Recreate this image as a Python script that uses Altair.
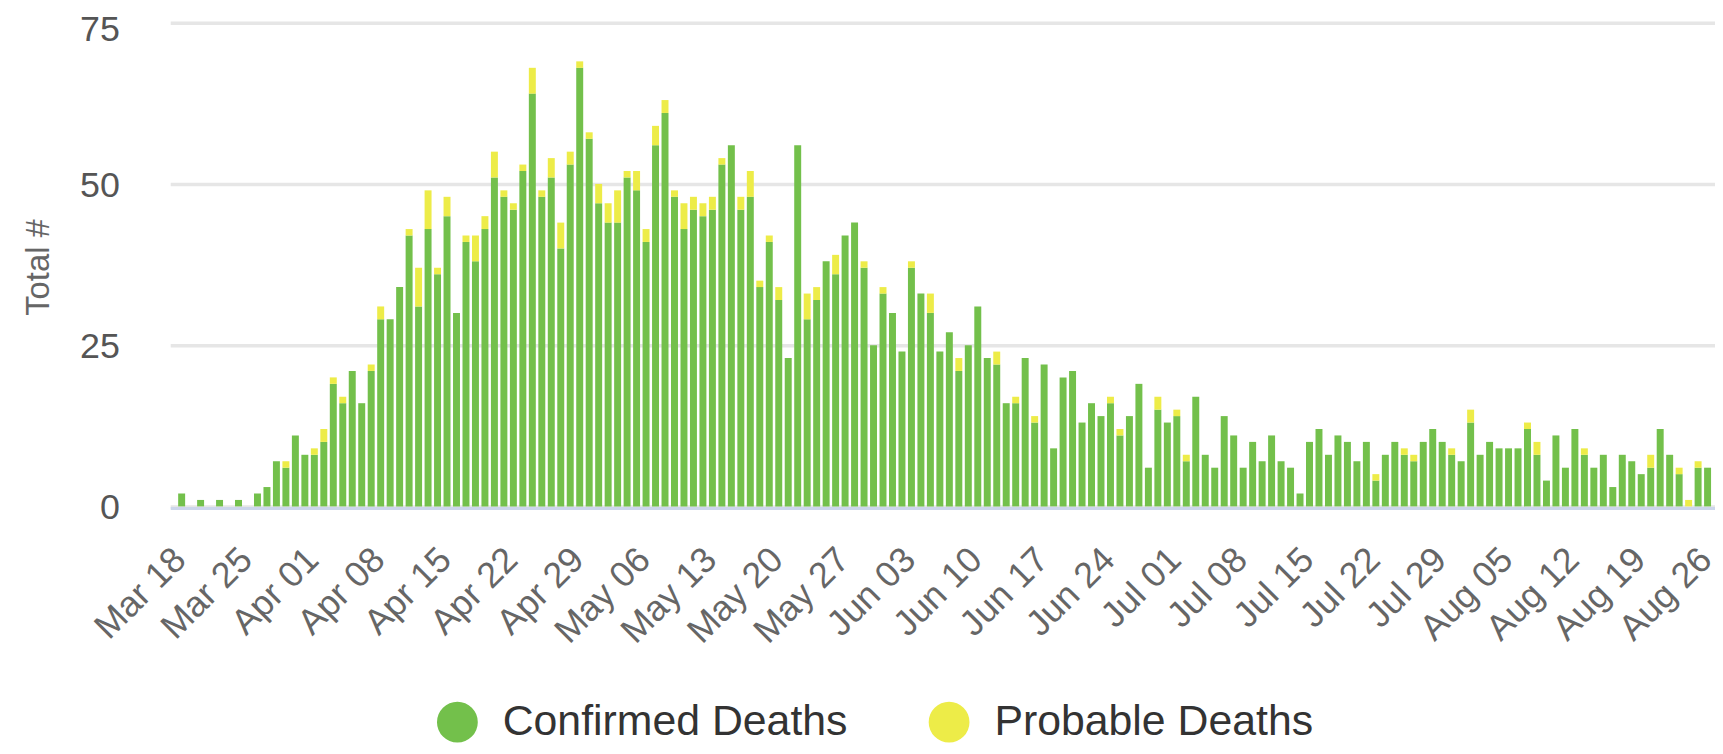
import altair as alt
import pandas as pd

start_date = "2020-03-18"
series_names = ["Confirmed Deaths", "Probable Deaths"]
series_colors = ["#73C04B", "#EDEC48"]

confirmed = [
    2, 0, 1, 0, 1, 0, 1, 0,
    2, 3, 7, 6, 11, 8, 8, 10, 19, 16,
    21, 16, 21, 29, 29, 34, 42, 31, 43, 36,
    45, 30, 41, 38, 43, 51, 48, 46, 52, 64,
    48, 51, 40, 53, 68, 57, 47, 44, 44, 51,
    49, 41, 56, 61, 48, 43, 46, 45, 46, 53,
    56, 46, 48, 34, 41, 32, 23, 56, 29, 32,
    38, 36, 42, 44, 37, 25, 33, 30, 24, 37,
    33, 30, 24, 27, 21, 25, 31, 23, 22, 16,
    16, 23, 13, 22, 9, 20, 21, 13, 16, 14,
    16, 11, 14, 19, 6, 15, 13, 14, 7, 17,
    8, 6, 14, 11, 6, 10, 7, 11, 7, 6,
    2, 10, 12, 8, 11, 10, 7, 10, 4, 8,
    10, 8, 7, 10, 12, 10, 8, 7, 13, 8,
    10, 9, 9, 9, 12, 8, 4, 11, 6, 12,
    8, 6, 8, 3, 8, 7, 5, 6, 12, 8,
    5, 0, 6, 6,
]

probable = [
    0, 0, 0, 0, 0, 0, 0, 0,
    0, 0, 0, 1, 0, 0, 1, 2, 1, 1,
    0, 0, 1, 2, 0, 0, 1, 6, 6, 1,
    3, 0, 1, 4, 2, 4, 1, 1, 1, 4,
    1, 3, 4, 2, 1, 1, 3, 3, 5, 1,
    3, 2, 3, 2, 1, 4, 2, 2, 2, 1,
    0, 2, 4, 1, 1, 2, 0, 0, 4, 2,
    0, 3, 0, 0, 1, 0, 1, 0, 0, 1,
    0, 3, 0, 0, 2, 0, 0, 0, 2, 0,
    1, 0, 1, 0, 0, 0, 0, 0, 0, 0,
    1, 1, 0, 0, 0, 2, 0, 1, 1, 0,
    0, 0, 0, 0, 0, 0, 0, 0, 0, 0,
    0, 0, 0, 0, 0, 0, 0, 0, 1, 0,
    0, 1, 1, 0, 0, 0, 1, 0, 2, 0,
    0, 0, 0, 0, 1, 2, 0, 0, 0, 0,
    1, 0, 0, 0, 0, 0, 0, 2, 0, 0,
    1, 1, 1, 0,
]

y_ticks = [0, 25, 50, 75]

dates = pd.date_range(start_date, periods=len(confirmed), freq="D")
rows = []
for d, c, p in zip(dates, confirmed, probable):
    ds = d.strftime("%Y-%m-%d")
    rows.append({"date": ds, "series": series_names[0], "value": c, "k": 0})
    rows.append({"date": ds, "series": series_names[1], "value": p, "k": 1})
df = pd.DataFrame(rows)

DAY = 86400000
t0 = int(pd.Timestamp(start_date, tz="UTC").value // 10**6)
x_domain = [t0 - 0.678 * DAY, t0 + 161.258 * DAY]
tick_values = [t0 + 7 * i * DAY for i in range(24)]

FONT = "Liberation Sans"

chart = alt.Chart(df).mark_bar(size=7).encode(
    x=alt.X(
        "date:T",
        scale=alt.Scale(type="utc", domain=x_domain),
        axis=alt.Axis(
            values=tick_values,
            labelExpr="utcFormat(datum.value, '%b %d')",
            labelAngle=315, labelAlign="right", labelBaseline="middle",
            labelFontSize=36, labelColor="#666666", labelFont=FONT,
            labelPadding=46, labelOffset=-2, labelOverlap=False, labelFlush=False,
            ticks=False, tickSize=0, domainColor="#ccd6eb", domainWidth=3,
            grid=False, title=None, offset=1.5, zindex=1,
        ),
    ),
    y=alt.Y(
        "value:Q", stack="zero",
        scale=alt.Scale(domain=[0, 75], nice=False),
        axis=alt.Axis(
            values=y_ticks, labelFontSize=36, labelColor="#555555", labelFont=FONT,
            labelPadding=51,
            labelOffset={"condition": {"test": "datum.value === 75", "value": 7}, "value": 1.5},
            ticks=False, tickSize=0, domain=False,
            gridColor="#e6e6e6", gridWidth=3.5,
            title="Total #", titleFontSize=33, titleColor="#666666",
            titleFontWeight="normal", titleFont=FONT,
            titleX=-122, titleY=245.5, titleAngle=270, titleAlign="center",
            titleBaseline="alphabetic", zindex=0,
        ),
    ),
    color=alt.Color(
        "series:N",
        scale=alt.Scale(domain=series_names, range=series_colors),
        legend=alt.Legend(
            title=None, orient="none", legendX=267, legendY=681,
            direction="horizontal", symbolType="circle", symbolSize=1681,
            symbolStrokeWidth=0, symbolOpacity=1, labelFontSize=43, labelFont=FONT,
            labelColor="#333333", labelOffset=24, columnPadding=80,
            labelLimit=1000, padding=0,
        ),
    ),
    order=alt.Order("k:Q", sort="ascending"),
).properties(
    width=1552,
    height=486,
    autosize=alt.AutoSizeParams(type="none"),
    padding={"left": 163, "top": 13, "right": 0, "bottom": 239},
).configure_view(strokeWidth=0)

chart.save("out.html", embed_options={"renderer": "svg", "actions": False})
